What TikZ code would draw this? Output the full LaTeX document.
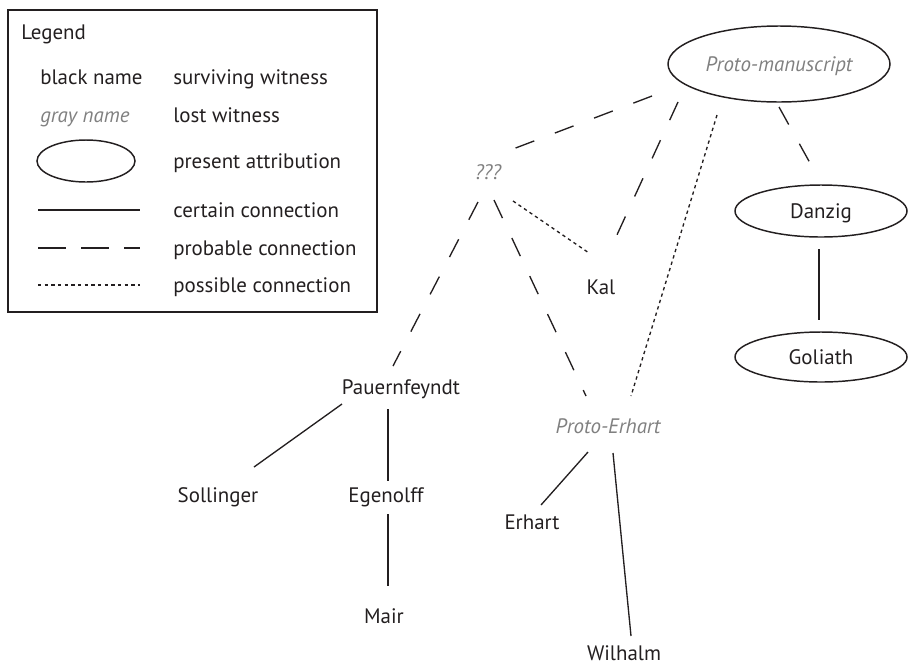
\documentclass[tikz,border=0pt]{standalone}
\usepackage{fontspec}
\setmainfont{PT Sans}
\usetikzlibrary{shapes.geometric,calc}
\definecolor{inkdark}{RGB}{35,31,32}
\definecolor{lostgray}{RGB}{128,128,128}
\newcommand{\stemmafont}{\fontsize{15.7}{18}\selectfont}

\begin{document}
\begin{tikzpicture}[
  x=0.75pt,y=-0.75pt,
  witness/.style={inner sep=0pt,text=inkdark,font=\stemmafont,
                  text height=14pt,text depth=3.5pt},
  lost/.style={witness,text=lostgray,font=\stemmafont\itshape},
  attrib/.style={ellipse,draw=inkdark,line width=1.1pt,inner sep=0pt},
  legtext/.style={anchor=base west,inner sep=0pt,text=inkdark,font=\stemmafont},
  certain/.style={draw=inkdark,line width=1pt},
  probable/.style={certain,dash pattern=on 15pt off 16.5pt},
  possible/.style={certain,dash pattern=on 2.5pt off 2.5pt}
]
\useasboundingbox (0,0) rectangle (912,665);

% Legend
\draw[draw=inkdark,line width=1.1pt] (8,10) rectangle (377,312);
\node[legtext] (legtitle) at (21,39) {Legend};
\node[legtext] (legblack) at (40,84) {black name};
\node[legtext] (legsurv) at (173,84) {surviving witness};
\node[legtext,text=lostgray,font=\stemmafont\itshape] (leggray) at (40,122) {gray name};
\node[legtext] (leglost) at (173,122) {lost witness};
\node[attrib,minimum width=73.5pt,minimum height=31.5pt] (legell) at (86,161) {};
\node[legtext] (legpres) at (173,168) {present attribution};
\coordinate (certA) at (38,210);
\coordinate (certB) at (140,210);
\draw[certain] (certA) -- (certB);
\node[legtext] (legcert) at (173,217) {certain connection};
\coordinate (probA) at (38,248);
\coordinate (probB) at (140,248);
\draw[certain,dash pattern=on 21pt off 11.25pt] (probA) -- (probB);
\node[legtext] (legprob) at (173,255) {probable connection};
\coordinate (possA) at (38,285);
\coordinate (possB) at (140,285);
\draw[possible] (possA) -- (possB);
\node[legtext] (legposs) at (173,292) {possible connection};

% Witnesses
\node[attrib,minimum width=166.5pt,minimum height=57pt,lost,draw=inkdark] (proto) at (779,64) {Proto-manuscript};
\node[lost] (qqq) at (488,172) {???};
\node[attrib,minimum width=129pt,minimum height=39pt,witness] (danzig) at (821,211) {Danzig};
\node[attrib,minimum width=129pt,minimum height=37.5pt,witness] (goliath) at (821,357) {Goliath};
\node[witness] (kal) at (601,287) {Kal};
\node[witness] (pauern) at (401,387) {Pauernfeyndt};
\node[lost] (proerhart) at (608,426) {Proto-Erhart};
\node[witness] (sollinger) at (218,495) {Sollinger};
\node[witness] (egenolff) at (386,495) {Egenolff};
\node[witness] (erhart) at (532,522) {Erhart};
\node[witness] (mair) at (384,616) {Mair};
\node[witness] (wilhalm) at (624,653) {Wilhalm};

% Connections
\draw[probable] ($(proto)+(-127,32)$) -- ($(qqq)+(25,-23)$);
\draw[probable] ($(proto)+(-101,38)$) -- ($(kal)+(15,-50)$);
\draw[possible] ($(proto)+(-62,51)$) -- ($(proerhart)+(23,-30)$);
\draw[probable] ($(proto)+(0,43)$) -- ($(danzig)+(-11,-48)$);
\draw[possible] ($(qqq)+(25,29)$) -- ($(kal)+(-12,-34)$);
\draw[probable] ($(qqq)+(-10,30)$) -- ($(pauern)+(-8,-21)$);
\draw[probable] ($(qqq)+(6,28)$) -- ($(proerhart)+(-22,-30)$);
\draw[certain] ($(danzig)+(-2,38)$) -- ($(goliath)+(-2,-37)$);
\draw[certain] ($(pauern)+(-59,17)$) -- ($(sollinger)+(36,-28)$);
\draw[certain] ($(pauern)+(-13,22)$) -- ($(egenolff)+(2,-14)$);
\draw[certain] ($(egenolff)+(2,19)$) -- ($(mair)+(4,-30)$);
\draw[certain] ($(proerhart)+(-20,26)$) -- ($(erhart)+(9,-17)$);
\draw[certain] ($(proerhart)+(5,27)$) -- ($(wilhalm)+(7,-17)$);

\end{tikzpicture}
\end{document}
